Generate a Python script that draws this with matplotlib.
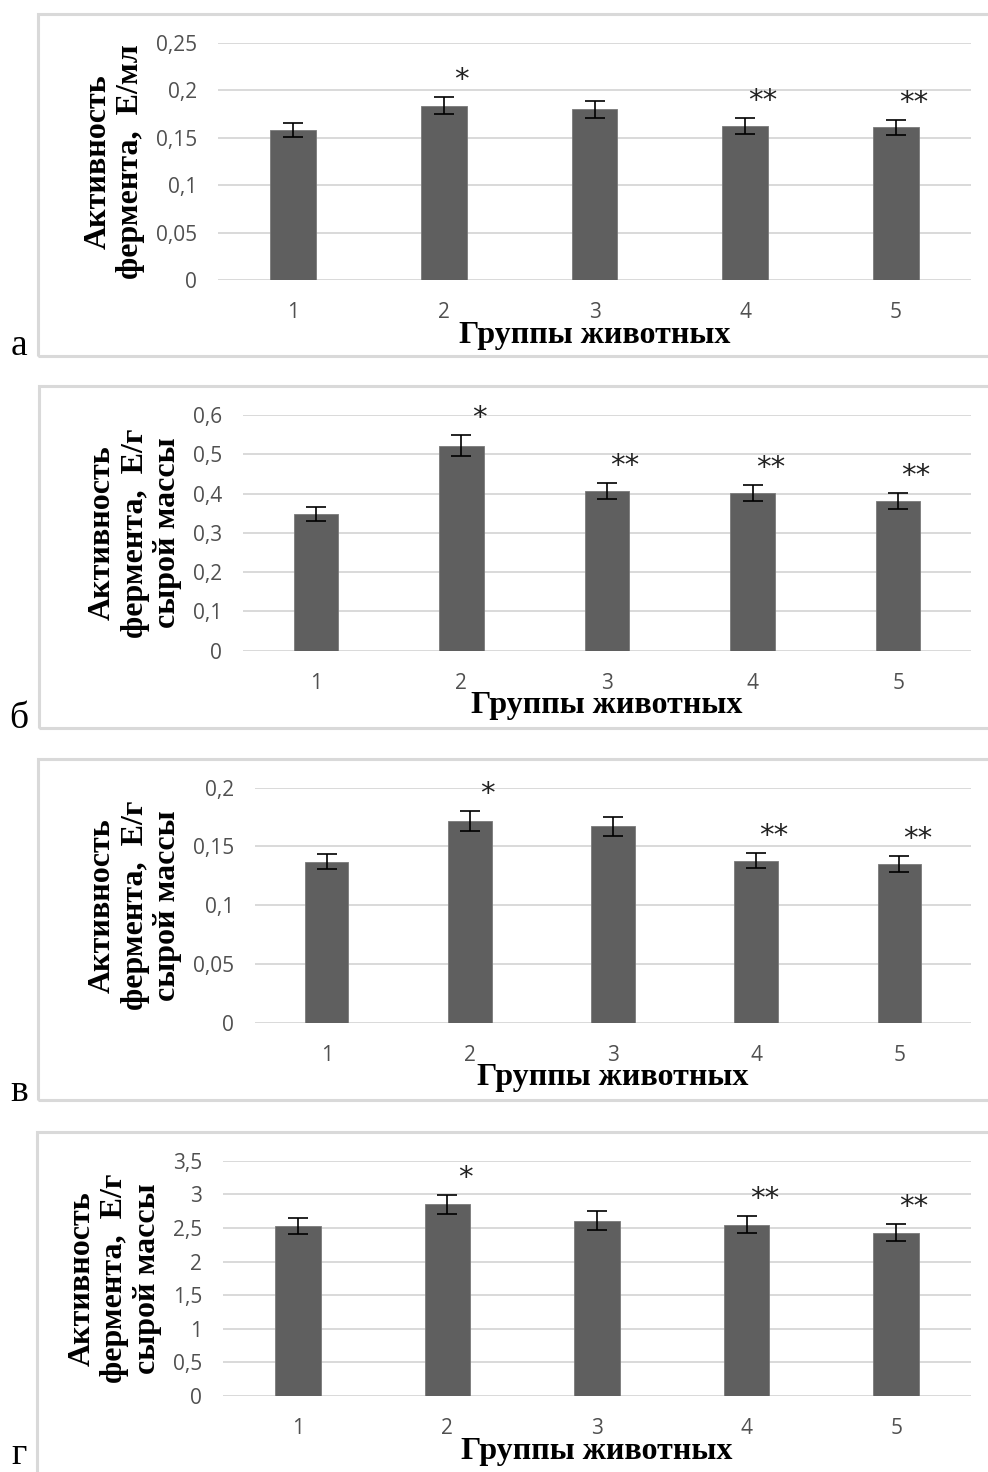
import matplotlib
matplotlib.use("Agg")
import matplotlib.pyplot as plt
from matplotlib.patches import Rectangle
from matplotlib.ticker import FuncFormatter, MultipleLocator

# ---------------- data ----------------
groups = ["1", "2", "3", "4", "5"]

vals_a = [0.158, 0.184, 0.180, 0.1625, 0.161]
err_a = [0.0074, 0.0088, 0.0090, 0.0080, 0.0080]
stars_a = ["", "*", "", "**", "**"]

vals_b = [0.349, 0.522, 0.407, 0.401, 0.381]
err_b = [0.018, 0.027, 0.020, 0.020, 0.020]
stars_b = ["", "*", "**", "**", "**"]

vals_v = [0.137, 0.172, 0.167, 0.138, 0.135]
err_v = [0.0065, 0.0085, 0.0084, 0.0067, 0.0067]
stars_v = ["", "*", "", "**", "**"]

vals_g = [2.53, 2.85, 2.61, 2.55, 2.43]
err_g = [0.120, 0.146, 0.137, 0.127, 0.124]
stars_g = ["", "*", "", "**", "**"]

ylabel_a = "Активность\nфермента,  Е/мл"
ylabel_wet = "Активность\nфермента,  Е/г\nсырой массы"
xlabel = "Группы животных"
panel_letters = ["а", "б", "в", "г"]

# ---------------- layout ----------------
W, H = 988, 1472
fig = plt.figure(figsize=(W / 100, H / 100), dpi=100)

BAR = "#5f5f5f"
GRID = "#d9d9d9"
TICKC = "#505050"
SERIF = "Liberation Serif"
SANS = "Open Sans"

panels = [
    dict(vals=vals_a, err=err_a, stars=stars_a, ylab=ylabel_a, ymax=0.25, step=0.05,
         ax=(218, 971, 43, 280), box=(38, 992, 14, 356), letter_xy=(19, 355)),
    dict(vals=vals_b, err=err_b, stars=stars_b, ylab=ylabel_wet, ymax=0.6, step=0.1,
         ax=(243, 971, 415, 650.7), box=(39, 992, 386, 728), letter_xy=(19, 728)),
    dict(vals=vals_v, err=err_v, stars=stars_v, ylab=ylabel_wet, ymax=0.2, step=0.05,
         ax=(255, 971, 787.7, 1022.7), box=(38, 992, 759, 1100), letter_xy=(19, 1101)),
    dict(vals=vals_g, err=err_g, stars=stars_g, ylab=ylabel_wet, ymax=3.5, step=0.5,
         ax=(223, 971, 1160.7, 1396), box=(37, 992, 1132, 1490), letter_xy=(19, 1464)),
]


def comma_fmt(v, pos):
    s = ("%.2f" % v).rstrip("0").rstrip(".")
    if s == "-0":
        s = "0"
    return s.replace(".", ",")


for p, letter in zip(panels, panel_letters):
    x0, x1, yt, yb = p["ax"]
    ax = fig.add_axes([x0 / W, 1 - yb / H, (x1 - x0) / W, (yb - yt) / H])
    xs = list(range(1, len(groups) + 1))
    ax.bar(xs, p["vals"], width=0.305, color=BAR, edgecolor="#7a7a7a",
           linewidth=0.6, zorder=3)
    ax.errorbar(xs, p["vals"], yerr=p["err"], fmt="none", ecolor="black",
                elinewidth=1.2, capsize=7.2, capthick=1.2, zorder=4)
    ax.set_xlim(0.5, len(groups) + 0.5)
    ax.set_ylim(0, p["ymax"])
    ax.yaxis.set_major_locator(MultipleLocator(p["step"]))
    ax.yaxis.set_major_formatter(FuncFormatter(comma_fmt))
    ax.set_xticks(xs)
    ax.set_xticklabels(groups)
    ax.grid(axis="y", color=GRID, linewidth=1.4, zorder=0)
    ax.set_axisbelow(True)
    for s in ax.spines.values():
        s.set_visible(False)
    ax.tick_params(axis="both", length=0, labelcolor=TICKC, labelsize=15)
    ax.tick_params(axis="y", pad=15)
    ax.tick_params(axis="x", pad=16)
    for lab in ax.get_xticklabels() + ax.get_yticklabels():
        lab.set_fontfamily(SANS)
    ax.set_ylabel(p["ylab"], fontfamily=SERIF, fontweight="bold", fontsize=23,
                  labelpad=8, linespacing=1.15, color="black")
    ax.annotate(xlabel, xy=(0.5, 0), xycoords="axes fraction",
                xytext=(0, -55), textcoords="offset pixels",
                ha="center", va="center", fontfamily=SERIF, fontweight="bold",
                fontsize=23, color="black")
    for x, v, e, st in zip(xs, p["vals"], p["err"], p["stars"]):
        if st:
            ax.annotate(st, xy=(x, v + e), xycoords="data",
                        xytext=(18, 9), textcoords="offset pixels",
                        ha="center", va="baseline", fontfamily="DejaVu Sans",
                        fontsize=21, color="#222222", annotation_clip=False)
    bx0, bx1, by0, by1 = p["box"]
    fig.patches.append(Rectangle((bx0 / W, 1 - by1 / H), (bx1 - bx0) / W,
                                 (by1 - by0) / H, transform=fig.transFigure,
                                 fill=False, edgecolor=GRID, linewidth=2.2))
    lx, ly = p["letter_xy"]
    fig.text(lx / W, 1 - ly / H, letter, ha="center", va="baseline",
             fontfamily=SERIF, fontsize=27, color="black")

fig.savefig("out.png", dpi=100)
